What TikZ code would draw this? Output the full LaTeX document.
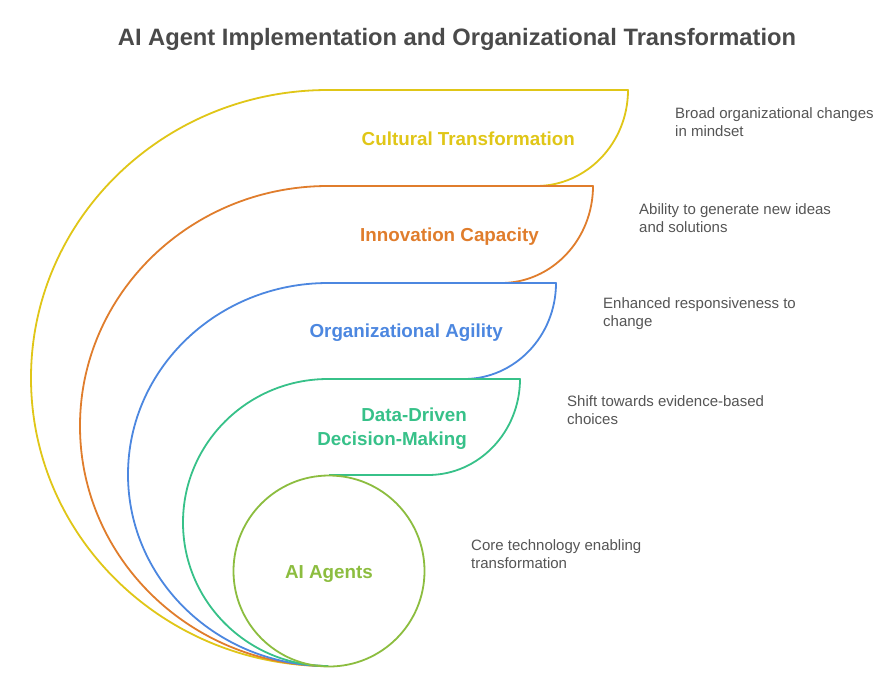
\documentclass[tikz,border=0pt]{standalone}
\usepackage{fontspec}
\setmainfont{Liberation Sans}
\definecolor{cyel}{HTML}{E0C617}
\definecolor{cora}{HTML}{E07D2C}
\definecolor{cblu}{HTML}{4C87E0}
\definecolor{cgrn}{HTML}{37C189}
\definecolor{clim}{HTML}{8CBD3F}
\definecolor{ctxt}{HTML}{4A4A4A}
\definecolor{cdesc}{HTML}{555555}
\tikzset{
  band/.style={line width=1.8pt, line join=round},
  lab/.style={font=\fontsize{18.8}{24}\selectfont\bfseries, anchor=east, align=right, inner sep=0pt},
  desc/.style={font=\fontsize{15}{18}\selectfont, text=cdesc, anchor=west, align=left, inner sep=0pt},
}
\begin{document}
\begin{tikzpicture}[x=1pt,y=-1pt]
\useasboundingbox (0,0) rectangle (891,686);
\fill[white] (0,0) rectangle (891,686);
% title
\node[font=\fontsize{23.7}{26}\selectfont\bfseries, text=ctxt] (title) at (457,39) {AI Agent Implementation and Organizational Transformation};
% bands
\draw[band, cyel] (328,666) arc[start angle=90, end angle=270, x radius=297, y radius=288]
  -- (628,90) arc[start angle=0, end angle=90, x radius=92, y radius=96];
\draw[band, cora] (328,666) arc[start angle=90, end angle=270, x radius=248, y radius=240]
  -- (593,186) arc[start angle=0, end angle=90, x radius=92, y radius=97];
\draw[band, cblu] (328,666) arc[start angle=90, end angle=270, x radius=200, y radius=191.5]
  -- (556,283) arc[start angle=0, end angle=90, x radius=92, y radius=96];
\draw[band, cgrn] (328,666) arc[start angle=90, end angle=270, x radius=145, y radius=143.5]
  -- (520,379) arc[start angle=0, end angle=90, x radius=92, y radius=96] -- (329,475);
\draw[band, clim] (329,571) circle[radius=95.5];
% labels
\node[lab, text=cyel] (l1) at (575,139) {Cultural Transformation};
\node[lab, text=cora] (l2) at (539,237) {Innovation Capacity};
\node[lab, text=cblu] (l3) at (503,333) {Organizational Agility};
\node[lab, text=cgrn] (l4) at (467,429) {Data-Driven\\Decision-Making};
\node[font=\fontsize{18.8}{24}\selectfont\bfseries, text=clim] (l5) at (329,574) {AI Agents};
% descriptions
\node[desc] (d1) at (675,122) {Broad organizational changes\\in mindset};
\node[desc] (d2) at (639,218) {Ability to generate new ideas\\and solutions};
\node[desc] (d3) at (603,314) {Enhanced responsiveness to\\change};
\node[desc] (d4) at (567,410) {Shift towards evidence-based\\choices};
\node[desc] (d5) at (471,554) {Core technology enabling\\transformation};
\end{tikzpicture}
\end{document}
